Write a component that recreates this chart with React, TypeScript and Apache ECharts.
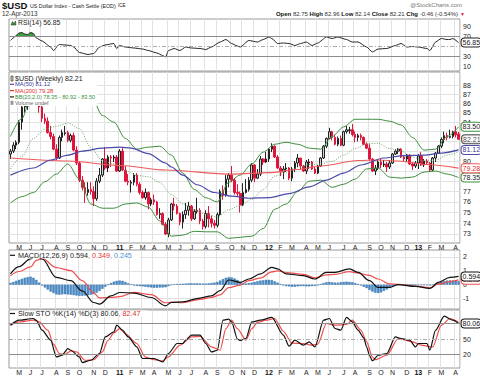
import React, { useEffect, useRef } from 'react';
import * as echarts from 'echarts';

const FONT = '"Liberation Sans", Arial, sans-serif';

// weekly bars: Friday 2010-04-16 .. 2013-04-12
const START = Date.UTC(2010, 3, 16);
const WEEKS = 157;
const dates: string[] = Array.from({ length: WEEKS }, (_, i) =>
  new Date(START + i * 7 * 86400000).toISOString().slice(0, 10)
);

// [open, high, low, close]
const ohlc: number[][] = [
  [80.7,81.2,80.2,81.0],[81.0,81.9,80.8,81.6],[81.6,82.1,81.2,81.9],[81.9,84.2,81.7,84.0],
  [84.0,85.7,83.2,85.6],[85.6,87.1,85.0,85.7],[85.7,86.8,85.3,86.6],[86.6,88.4,86.4,88.1],
  [88.1,88.7,86.9,87.2],[87.2,87.5,85.8,86.0],[86.0,86.3,85.0,85.6],[85.6,86.0,84.0,84.4],
  [84.4,84.9,83.8,84.1],[84.1,84.5,82.8,82.9],[82.9,83.6,82.2,82.5],[82.5,82.8,81.1,81.2],
  [81.2,81.7,80.1,80.3],[80.3,82.6,80.2,82.4],[82.4,83.2,82.0,82.9],[82.8,83.6,82.6,82.9],
  [82.9,83.1,81.9,82.1],[82.1,82.8,81.9,82.6],[82.6,82.9,81.0,81.1],[81.1,81.5,79.6,79.8],
  [79.8,80.0,77.9,78.1],[78.1,78.5,77.1,77.4],[77.4,77.9,75.9,76.9],[76.9,77.9,76.6,77.2],
  [77.2,77.9,76.7,77.0],[77.0,77.5,75.6,76.3],[76.3,78.3,76.1,78.0],[78.0,79.3,77.8,78.6],
  [78.6,80.3,78.4,80.2],[80.2,81.4,79.1,79.3],[79.3,80.6,78.9,80.4],[80.4,80.6,79.4,80.3],
  [80.3,80.6,79.9,80.4],[80.4,80.6,78.9,79.0],
  [79.0,81.2,78.9,81.0],[81.0,81.3,79.0,79.1],[79.1,79.5,77.9,78.0],[78.0,78.7,77.6,77.9],
  [77.8,78.1,76.9,77.9],[77.9,78.8,77.6,78.6],[78.6,78.8,77.5,77.7],[77.7,77.9,76.7,76.9],
  [76.9,77.1,76.3,76.4],[76.4,77.3,76.2,76.9],[76.9,77.0,75.3,75.8],[75.8,76.4,75.6,76.2],
  [76.2,76.7,75.7,76.0],[76.0,76.1,74.7,74.8],[74.8,75.4,74.4,74.9],[74.9,75.0,73.8,73.9],
  [73.9,74.1,72.9,73.0],[73.0,74.5,72.7,74.3],[74.3,75.9,74.2,75.8],[75.8,76.4,75.2,75.6],
  [75.6,75.8,74.8,74.9],[74.9,75.0,73.8,74.1],[74.1,75.1,73.5,74.8],[74.8,75.9,74.4,75.2],
  [75.2,76.0,74.7,75.6],[75.6,75.7,74.2,74.4],[74.4,75.3,74.3,75.1],[75.1,76.4,74.9,75.2],
  [75.2,75.4,73.9,74.2],[74.2,74.4,73.4,73.7],[73.7,75.2,73.5,74.9],[74.9,75.6,73.6,74.4],
  [74.4,74.7,73.6,74.0],[74.0,74.3,73.5,73.8],[73.8,75.0,73.6,74.8],[74.8,77.2,74.7,77.0],
  [77.0,77.6,76.2,76.6],[76.6,78.6,76.5,78.2],[78.2,78.8,77.4,78.6],[78.6,79.5,77.9,78.1],
  [78.1,78.3,76.7,76.9],[76.9,77.7,76.5,76.8],[76.8,77.0,75.0,75.7],[75.7,77.8,75.6,76.9],
  [76.9,78.2,76.8,77.2],[77.2,78.4,77.0,78.1],[78.1,79.8,77.9,79.6],[79.6,79.7,77.9,78.3],
  [78.3,79.2,78.2,78.7],[78.7,80.5,78.5,80.2],[80.2,80.3,79.6,79.9],[79.9,80.9,79.8,80.2],
  [80.2,81.3,79.9,81.2],[81.2,81.8,80.9,81.5],[81.5,81.6,80.3,80.4],[80.4,80.6,79.2,79.3],
  [79.3,79.5,78.5,78.9],[78.9,79.5,78.2,79.2],[79.2,79.8,78.9,79.3],[79.3,79.4,78.1,78.3],
  [78.3,79.4,78.0,79.2],[79.2,80.0,78.9,79.8],[79.8,80.7,79.4,80.3],[80.3,80.3,79.2,79.5],
  [79.5,79.6,78.9,79.0],[79.0,80.1,78.7,79.9],[79.8,80.2,79.2,79.9],[79.9,80.0,79.1,79.2],
  [79.2,79.4,78.7,78.8],[78.8,79.6,78.7,79.5],[79.5,80.4,79.4,80.3],[80.3,81.6,80.2,81.5],
  [81.5,82.4,81.3,82.3],[82.3,83.4,82.2,83.0],[83.0,83.1,82.1,82.4],[82.4,82.7,81.6,81.7],
  [81.7,82.5,81.5,82.3],[82.3,82.6,81.5,81.6],[81.6,83.1,81.5,83.0],[83.0,83.6,82.8,83.2],
  [83.1,83.5,82.8,83.2],[83.2,83.8,82.5,82.7],[82.7,83.0,81.9,82.4],[82.4,82.8,82.0,82.6],
  [82.6,82.8,82.1,82.4],[82.4,82.5,81.6,81.7],[81.7,81.9,81.2,81.3],[81.3,81.7,80.0,80.2],
  [80.2,80.3,78.9,79.0],[79.0,79.6,78.6,79.3],[79.3,80.1,79.1,79.9],[79.9,80.2,79.3,79.6],
  [79.6,80.1,79.4,79.7],[79.7,79.9,78.9,79.4],[79.4,80.1,79.2,79.8],[79.8,80.8,79.7,80.7],
  [80.7,81.2,80.6,81.0],[81.0,81.3,80.7,81.2],[81.2,81.3,80.3,80.4],[80.4,80.6,79.9,80.2],
  [80.2,80.7,79.9,80.6],[80.6,80.7,79.6,79.7],[79.7,79.9,79.1,79.5],[79.5,80.0,79.3,79.8],
  [79.8,80.7,79.2,80.5],[80.5,80.9,79.5,79.6],[79.6,80.2,79.4,80.0],[80.0,80.2,79.6,79.8],
  [79.8,79.9,78.9,79.1],[79.1,80.4,79.0,80.3],[80.3,80.9,79.9,80.8],[80.8,81.6,80.7,81.5],
  [81.5,82.4,81.3,82.2],[82.2,83.0,81.8,82.6],[82.6,82.9,82.1,82.4],[82.4,83.2,82.3,82.5],
  [82.5,83.1,82.3,83.0],[83.0,83.6,82.4,82.67],[82.75,82.96,82.14,82.21],
];

// indicator readings: [week index, value]
const ma50Pts = [[0,78.6],[8,79.3],[14,80.1],[20,80.6],[25,81.0],[32,81.3],[38,81.4],[42,81.3],[48,80.75],[54,79.8],[56,79.4],[60,78.6],[65,77.65],[71,76.9],[77,76.55],[83,76.35],[90,76.4],[97,76.8],[104,77.45],[110,78.1],[116,78.8],[122,79.6],[130,80.3],[137,80.55],[144,80.6],[150,80.8],[156,81.12]];
const ma200Pts = [[0,80.3],[20,80.0],[38,79.55],[54,79.1],[77,78.7],[90,78.85],[100,79.15],[108,79.5],[121,80.05],[128,80.1],[135,80.0],[145,79.65],[156,79.28]];
const bbUpper = [[0,82.5],[4,84.4],[8,87.7],[12,88.6],[16,88.4],[20,88.1],[24,88.4],[28,86.9],[32,84.7],[36,84.0],[40,82.3],[44,81.2],[48,81.4],[52,81.5],[56,80.6],[60,78.8],[64,77.2],[68,76.4],[72,76.0],[76,77.9],[80,78.6],[84,79.7],[88,80.9],[92,81.7],[96,81.9],[100,81.7],[104,81.3],[108,81.2],[112,82.5],[116,83.5],[120,84.3],[124,84.3],[128,84.3],[132,84.1],[136,83.7],[140,82.4],[144,81.1],[148,81.2],[152,82.5],[156,83.50]];
const bbMid = [[0,79.2],[4,80.46],[8,82.3],[12,83.27],[16,83.56],[20,83.9],[24,83.33],[28,81.37],[32,80.02],[36,79.7],[40,79.04],[44,78.56],[48,78.44],[52,77.88],[56,76.71],[60,75.82],[64,75.23],[68,74.83],[72,74.59],[76,75.26],[80,75.66],[84,76.24],[88,77.19],[92,78.5],[96,78.82],[100,79.33],[104,79.65],[108,79.69],[112,79.98],[116,80.58],[120,81.27],[124,81.76],[128,81.79],[132,81.25],[136,80.99],[140,80.41],[144,80.0],[148,80.09],[152,80.6],[156,80.92]];
const bbLower = [[0,75.9],[4,76.5],[8,76.9],[12,77.95],[16,78.7],[20,79.7],[24,78.2],[28,75.8],[32,75.4],[36,75.4],[40,75.8],[44,75.9],[48,75.5],[52,74.2],[56,72.8],[60,72.9],[64,73.25],[68,73.2],[72,73.2],[76,72.6],[80,72.7],[84,72.8],[88,73.5],[92,75.3],[96,75.8],[100,77.0],[104,78.0],[108,78.1],[112,77.4],[116,77.7],[120,78.2],[124,79.2],[128,79.3],[132,78.4],[136,78.3],[140,78.4],[144,78.9],[148,79.0],[152,78.7],[156,78.35]];

const rsiPts = [[0,61],[1,66],[2,71],[3,76],[4,77],[5,74],[6,73],[7,77],[8,75],[9,66],[11,60],[14,48],[15,41],[17,53],[19,52],[21,51],[22,48],[24,37],[27,33],[29,35],[31,48],[33,52],[36,55],[37,45],[38,51],[40,48],[43,46],[46,44],[48,41],[51,36],[53,31],[54,28],[55,41],[57,45],[59,41],[61,48],[63,46],[66,45],[68,43],[70,48],[73,58],[75,63],[77,55],[79,50],[80,48],[83,61],[86,58],[88,63],[90,68],[91,65],[93,55],[95,56],[97,55],[99,51],[101,55],[103,58],[105,51],[107,56],[110,68],[112,65],[114,68],[117,63],[119,58],[121,58],[124,48],[126,38],[128,44],[131,45],[134,51],[136,55],[138,48],[140,49],[142,48],[145,45],[146,41],[148,58],[150,65],[152,63],[153,63],[154,65],[156,56.85]];

const macdPts = [[0,0.78],[3,1.3],[7,1.86],[9,2.1],[11,1.85],[16,0.53],[21,0.29],[25,-0.45],[29,-1.28],[31,-1.4],[35,-0.8],[38,-0.56],[43,-0.6],[49,-0.92],[54,-1.52],[56,-1.28],[60,-1.23],[66,-0.96],[70,-0.8],[73,-0.43],[76,0.34],[80,0.17],[83,0.41],[87,0.78],[91,1.25],[93,1.14],[96,0.78],[102,0.65],[106,0.41],[110,0.89],[113,0.89],[118,1.14],[121,0.89],[125,0.29],[128,-0.19],[132,-0.19],[135,0.0],[141,-0.12],[146,-0.27],[149,0.17],[153,0.53],[156,0.594]];
const signalPts = [[0,0.65],[3,0.95],[7,1.28],[9,1.75],[11,1.9],[16,1.23],[21,1.01],[25,0.3],[29,-0.6],[31,-0.95],[35,-0.92],[38,-0.86],[43,-0.55],[49,-0.72],[54,-1.3],[56,-1.26],[60,-1.3],[66,-1.05],[70,-0.92],[73,-0.73],[76,-0.21],[80,-0.03],[83,0.29],[87,0.48],[91,0.92],[93,0.99],[96,0.88],[102,0.75],[106,0.49],[110,0.71],[113,0.74],[118,0.94],[121,0.84],[125,0.67],[128,0.41],[132,0.06],[135,0.03],[141,-0.1],[146,-0.22],[149,0.05],[153,0.22],[156,0.349]];
const histVals = [
  0.13,0.2,0.28,0.35,0.42,0.5,0.55,0.58,0.5,0.35,0.15,-0.05,
  -0.2,-0.35,-0.5,-0.6,-0.7,-0.72,-0.7,-0.68,-0.7,-0.72,-0.75,-0.78,-0.8,-0.8,-0.78,-0.75,-0.72,-0.68,-0.58,-0.45,-0.3,-0.15,0.0,
  0.12,0.22,0.28,0.3,0.28,0.2,0.1,
  0.02,-0.05,-0.08,-0.1,-0.12,-0.15,-0.18,-0.2,-0.22,-0.22,-0.2,-0.2,-0.18,-0.1,-0.02,
  0.03,0.05,0.06,0.07,0.08,0.1,0.1,0.1,0.1,0.09,0.08,0.08,0.1,0.12,0.15,0.2,
  0.3,0.4,0.5,0.55,0.52,0.45,0.35,0.2,0.1,0.08,
  0.12,0.15,0.2,0.25,0.3,0.32,0.35,0.35,0.33,0.25,0.15,
  0.05,-0.05,-0.1,-0.12,-0.15,-0.15,-0.12,-0.1,-0.1,-0.12,-0.12,-0.1,-0.08,-0.05,
  0.05,0.12,0.18,0.2,0.18,0.15,0.15,0.18,0.2,0.22,0.2,0.18,0.12,0.05,-0.05,
  -0.15,-0.25,-0.38,-0.5,-0.58,-0.6,-0.55,-0.45,-0.35,-0.25,-0.15,-0.08,-0.03,
  0.0,0.02,0.03,0.02,0.0,-0.02,-0.03,-0.03,-0.02,-0.03,-0.05,-0.02,
  0.05,0.12,0.2,0.26,0.3,0.31,0.3,0.28,0.245,
];

const stoKPts = [[0,76.7],[3,86.3],[8,89.6],[9,86],[11,67],[14,47.7],[16,15.4],[18,18.6],[20,31.6],[21,28.3],[24,15.4],[25,4.5],[28,9],[31,22],[33,54],[36,63.7],[37,76.7],[39,67],[41,54],[44,34.7],[46,12.3],[50,12.3],[53,5.7],[55,22],[58,41.3],[60,41.3],[61,47.7],[63,57.4],[66,57.4],[68,41.3],[70,25],[72,28.3],[74,86.3],[76,88.3],[77,83],[79,50],[80,47],[82,51],[84,83],[87,86.3],[91,91.6],[95,57.4],[97,36],[99,47.7],[102,38],[104,44.4],[106,34.7],[109,86.3],[111,89.6],[113,70.3],[115,67],[117,91.6],[119,83],[121,67],[123,52],[124,35],[125,18],[126,8],[128,18.6],[131,22],[134,54],[136,51],[139,47.7],[141,34.7],[142,41.3],[145,41.3],[146,28.3],[148,67],[151,94],[154,86.3],[156,80.06]];
const stoDPts = [[0,76.7],[3,83],[8,86.3],[10,83],[13,67],[15,40],[17,22],[19,20],[21,27],[23,25],[26,9],[29,10],[32,25],[34,47.7],[36,62],[38,70],[40,60],[44,41.3],[47,15],[50,10],[53,8],[55,15.4],[59,38],[63,54],[66,55],[70,34.7],[73,28.3],[75,70],[77,86.3],[79,70],[82,48],[84,70],[86,82],[89,86.3],[92,89.6],[95,65],[98,42],[102,41.3],[105,38],[107,40],[110,80],[113,76.7],[117,78],[119,86.3],[122,67],[124,45],[126,15.4],[127,10],[131,18.6],[135,51],[140,44.4],[143,38],[147,34.7],[150,76.7],[153,89.6],[156,82.47]];

// grid lines at every dollar; labels where the reference shows them (others sit under value tags)
const priceGrid = [73,74,75,76,77,78,79,80,81,82,83,84,85,86,87,88];
const priceLabels = [73,74,75,76,77,80,84,85,86,87,88];
const rsiLabels = [10,30,70,90];
const macdLabels = [-1,0,1,2];
const stoLabels = [20,50];

const MONTHS = ['J','F','M','A','M','J','J','A','S','O','N','D'];
const monthOf = (s: string) => parseInt(s.slice(5, 7), 10) - 1;
const isMonthStart = (i: number) => i > 0 && monthOf(dates[i]) !== monthOf(dates[i - 1]);
const fmtMonth = (v: string) => { const m = monthOf(v); return m === 0 ? `{y|${v.slice(2, 4)}}` : MONTHS[m]; };
const lastV = (a: number[][]) => a[a.length - 1][1];

function buildOption(): any {
  const last = ohlc[ohlc.length - 1];
  const candleData = ohlc.map(r => [r[0], r[3], r[2], r[1]]);
  const xAx = (g: number, labels: boolean) => ({
    type: 'category', gridIndex: g, data: dates, boundaryGap: true,
    axisLine: { show: false }, axisTick: { show: false },
    axisLabel: {
      show: labels, interval: (i: number) => isMonthStart(i), formatter: fmtMonth,
      fontSize: 7, color: '#222', margin: 0.5, fontFamily: FONT,
      rich: { y: { fontWeight: 'bold', fontSize: 7, color: '#111', fontFamily: FONT } },
    },
    splitLine: { show: true, interval: (i: number) => isMonthStart(i), lineStyle: { color: '#e2e2e2', width: 1 } },
  });
  const yLab = (vals: number[]) => ({
    fontSize: 7, color: '#222', margin: 3, fontFamily: FONT,
    formatter: (v: number) => (vals.some(t => Math.abs(t - v) < 1e-6) ? String(Math.round(v)) : ''),
  });
  const tag = (border: string, text: string, digits: number) => ({
    show: true, distance: 3, fontSize: 7, fontFamily: FONT, color: text,
    backgroundColor: '#fff', borderColor: border, borderWidth: 1, borderRadius: 3, padding: [1, 1, 0, 1],
    formatter: (p: any) => Number(p.value[1]).toFixed(digits),
  });
  const line = (x: number, data: number[][], color: string, width = 1, extra: any = {}) => ({
    type: 'line', xAxisIndex: x, yAxisIndex: x, data, symbol: 'none', showSymbol: false,
    smooth: 0.3, smoothMonotone: 'x', lineStyle: { color, width }, z: 4, ...extra,
  });
  const hline = (v: number, color: string, type: any) => ({ yAxis: v, lineStyle: { color, type, width: 1 } });
  const markLines = (vals: any[]) => ({ silent: true, symbol: 'none', label: { show: false }, animation: false, data: vals });
  const txt = (x: number, y: number, text: string, size: number, fill: string, extra: any = {}) => ({
    type: 'text', x, y, z: 101, style: { text, font: `${size}px ${FONT}`, fill, verticalAlign: 'middle', ...extra },
  });

  return {
    animation: false,
    backgroundColor: '#fff',
    grid: [
      { left: 9, right: 20, top: 19, height: 52, show: true, borderColor: '#999', borderWidth: 1 },
      { left: 9, right: 20, top: 72, height: 171, show: true, borderColor: '#999', borderWidth: 1 },
      { left: 9, right: 20, top: 250, height: 59, show: true, borderColor: '#999', borderWidth: 1 },
      { left: 9, right: 20, top: 310, height: 58, show: true, borderColor: '#999', borderWidth: 1 },
    ],
    xAxis: [xAx(0, false), xAx(1, true), xAx(2, false), xAx(3, true)],
    yAxis: [
      { type: 'value', gridIndex: 0, position: 'right', min: 0, max: 104, interval: 10, axisLabel: yLab(rsiLabels), axisTick: { show: false }, axisLine: { show: false }, splitLine: { show: false } },
      { type: 'log', gridIndex: 1, position: 'right', min: 72.18, max: 89.45, axisLabel: { show: false }, axisTick: { show: false }, axisLine: { show: false }, splitLine: { show: false } },
      { type: 'value', gridIndex: 2, position: 'right', min: -1.75, max: 2.5, interval: 0.25, axisLabel: yLab(macdLabels), axisTick: { show: false }, axisLine: { show: false }, splitLine: { show: false } },
      { type: 'value', gridIndex: 3, position: 'right', min: -6, max: 106, interval: 2, axisLabel: yLab(stoLabels), axisTick: { show: false }, axisLine: { show: false }, splitLine: { show: false } },
    ],
    visualMap: [{
      type: 'piecewise', show: false, seriesIndex: 0, dimension: 1,
      pieces: [{ min: -50, max: 70, color: 'rgba(255,255,255,0)' }, { min: 70, max: 150, color: '#3f9c3f' }],
    }],
    series: [
      { type: 'line', xAxisIndex: 0, yAxisIndex: 0, data: rsiPts, symbol: 'none', smooth: 0.2, lineStyle: { width: 0 }, areaStyle: { opacity: 1, origin: 'start' }, z: 2 },
      line(0, rsiPts, '#222', 1, {
        smooth: 0.2, endLabel: tag('#222', '#222', 2),
        markLine: markLines([hline(70, '#8c8c8c', 'solid'), hline(30, '#8c8c8c', 'solid'), hline(50, '#aaa', [4, 2, 1, 2])]),
      }),
      // price grid lines + labels on the log scale
      {
        type: 'line', xAxisIndex: 1, yAxisIndex: 1, data: ohlc.map((r, i) => [i, r[3]]), symbol: 'none',
        lineStyle: { opacity: 0 }, z: 1, silent: true,
        markLine: {
          silent: true, symbol: 'none', z: 1, animation: false,
          lineStyle: { color: '#e2e2e2', type: 'solid', width: 1 },
          label: {
            show: true, position: 'end', distance: 3, fontSize: 7, color: '#222', fontFamily: FONT,
            formatter: (p: any) => (priceLabels.indexOf(p.value) >= 0 ? String(p.value) : ''),
          },
          data: priceGrid.map(v => ({ yAxis: v })),
        },
      },
      {
        type: 'candlestick', xAxisIndex: 1, yAxisIndex: 1, data: candleData, barWidth: '72%', z: 3,
        itemStyle: { color: '#d4d4d4', color0: '#e0153c', borderColor: '#222', borderColor0: '#e0153c', borderWidth: 1 },
      },
      line(1, bbUpper, '#3d8f3d', 1, { endLabel: tag('#3d8f3d', '#222', 2) }),
      line(1, bbLower, '#3d8f3d', 1, { endLabel: tag('#3d8f3d', '#222', 2) }),
      line(1, bbMid, '#6aaa6a', 1, { lineStyle: { color: '#6aaa6a', width: 1, type: [1, 1.5] } }),
      line(1, ma200Pts, '#ef5a5a', 1.2, { endLabel: tag('#ef5a5a', '#e03030', 2) }),
      line(1, ma50Pts, '#4a4aa8', 1.2, { endLabel: tag('#4a4aa8', '#3a3a98', 2) }),
      {
        type: 'scatter', xAxisIndex: 1, yAxisIndex: 1, data: [[ohlc.length - 1, last[3]]], symbolSize: 1,
        itemStyle: { color: 'rgba(0,0,0,0)' }, z: 6,
        label: { ...tag('#222', '#111', 2), position: 'right', distance: 3 },
      },
      {
        type: 'line', xAxisIndex: 2, yAxisIndex: 2, data: macdPts, symbol: 'none', lineStyle: { opacity: 0 }, z: 1, silent: true,
        markLine: { silent: true, symbol: 'none', z: 1, animation: false, label: { show: false }, lineStyle: { color: '#e2e2e2', type: 'solid', width: 1 }, data: macdLabels.map(v => ({ yAxis: v })) },
      },
      {
        type: 'bar', xAxisIndex: 2, yAxisIndex: 2, data: histVals, barWidth: '82%', z: 2,
        itemStyle: { color: '#4b8fcf', borderColor: '#2f6aa0', borderWidth: 0.4 },
      },
      line(2, signalPts, '#ef4f4f', 1.2, { smooth: 0.35, endLabel: tag('#ef4f4f', '#e03030', 3) }),
      line(2, macdPts, '#111', 1.2, { smooth: 0.35, endLabel: tag('#111', '#111', 3) }),
      line(3, stoDPts, '#ef4f4f', 1.2, { smooth: 0.25 }),
      line(3, stoKPts, '#111', 1.2, {
        smooth: 0.25, endLabel: tag('#111', '#111', 2),
        markLine: markLines([hline(80, '#8c8c8c', 'solid'), hline(20, '#8c8c8c', 'solid'), hline(50, '#aaa', [4, 2, 1, 2])]),
      }),
    ],
    graphic: [
      // header
      { type: 'text', x: 2, y: 5.5, z: 100, style: { text: '$USD', font: `bold 9.5px ${FONT}`, fill: '#111', verticalAlign: 'middle' } },
      txt(30, 5.5, 'US Dollar Index - Cash Settle (EOD)', 5.3, '#222'),
      txt(118, 5.8, 'ICE', 4.6, '#222'),
      txt(2, 13.5, '12-Apr-2013', 6.4, '#333'),
      txt(462, 4.5, '@StockCharts.com', 6, '#777', { align: 'right' }),
      txt(458, 13.5, '{b|Open} 82.75 {b|High} 82.96 {b|Low} 82.14 {b|Close} 82.21 {b|Chg} -0.46 (-0.54%)', 6, '#333', {
        align: 'right', rich: { b: { font: `bold 6px ${FONT}`, fill: '#111' } },
      }),
      txt(460, 13.5, '▼', 5, '#e0153c'),
      // RSI legend
      { type: 'rect', z: 100, shape: { x: 10, y: 19.5, width: 53, height: 6.5 }, style: { fill: '#fff' } },
      { type: 'polygon', z: 101, shape: { points: [[11, 25], [12.5, 21.5], [14, 23.5], [15.5, 21], [16, 25]] }, style: { fill: '#3f9c3f', stroke: '#222', lineWidth: 0.5 } },
      txt(18, 22.7, `RSI(14) ${lastV(rsiPts).toFixed(2)}`, 6.8, '#222'),
      // price legend
      { type: 'rect', z: 100, shape: { x: 10, y: 73, width: 87, height: 33 }, style: { fill: '#fff' } },
      { type: 'rect', z: 101, shape: { x: 11, y: 76, width: 2, height: 5 }, style: { fill: '#ccc', stroke: '#222', lineWidth: 0.6 } },
      txt(15, 78.4, `$USD (Weekly) ${last[3].toFixed(2)}`, 7, '#222'),
      { type: 'line', z: 101, shape: { x1: 10, y1: 84.3, x2: 14, y2: 84.3 }, style: { stroke: '#4a4aa8', lineWidth: 1.2 } },
      txt(15, 84.3, `MA(50) ${lastV(ma50Pts).toFixed(2)}`, 5.8, '#3a3a98'),
      { type: 'line', z: 101, shape: { x1: 10, y1: 90.6, x2: 14, y2: 90.6 }, style: { stroke: '#e03030', lineWidth: 1.2 } },
      txt(15, 90.6, `MA(200) ${lastV(ma200Pts).toFixed(2)}`, 5.8, '#e03030'),
      { type: 'line', z: 101, shape: { x1: 10, y1: 96.9, x2: 14, y2: 96.9 }, style: { stroke: '#222', lineWidth: 1.2 } },
      txt(15, 96.9, `BB(20,2.0) ${lastV(bbLower).toFixed(2)} - ${lastV(bbMid).toFixed(2)} - ${lastV(bbUpper).toFixed(2)}`, 5.6, '#3d8f3d'),
      { type: 'rect', z: 101, shape: { x: 10.5, y: 100.8, width: 3, height: 4 }, style: { fill: '#999' } },
      txt(15, 102.9, 'Volume undef', 5.5, '#666'),
      // MACD legend
      { type: 'rect', z: 100, shape: { x: 10, y: 251.5, width: 130, height: 7 }, style: { fill: '#fff' } },
      { type: 'line', z: 101, shape: { x1: 10, y1: 255.3, x2: 15, y2: 255.3 }, style: { stroke: '#111', lineWidth: 1.2 } },
      txt(18, 255.3, `MACD(12,26,9) ${lastV(macdPts).toFixed(3)}{r|, ${lastV(signalPts).toFixed(3)}}{b|, ${histVals[histVals.length - 1].toFixed(3)}}`, 7.2, '#222', {
        rich: { r: { fill: '#e03030', font: `7.2px ${FONT}` }, b: { fill: '#4b8fcf', font: `7.2px ${FONT}` } },
      }),
      // STO legend
      { type: 'rect', z: 100, shape: { x: 10, y: 310.5, width: 138, height: 6.5 }, style: { fill: '#fff' } },
      { type: 'line', z: 101, shape: { x1: 10, y1: 313.5, x2: 15, y2: 313.5 }, style: { stroke: '#111', lineWidth: 1.2 } },
      txt(18, 313.5, `Slow STO %K(14) %D(3) ${lastV(stoKPts).toFixed(2)}{r|, ${lastV(stoDPts).toFixed(2)}}`, 7.2, '#222', {
        rich: { r: { fill: '#e03030', font: `7.2px ${FONT}` } },
      }),
    ],
  };
}

export default function App() {
  const ref = useRef<HTMLDivElement>(null);
  useEffect(() => {
    document.body.style.margin = '0';
    const chart = echarts.init(ref.current as HTMLDivElement, null, { renderer: 'svg' });
    chart.setOption(buildOption());
    return () => chart.dispose();
  }, []);
  return <div ref={ref} style={{ width: 480, height: 377 }} />;
}
